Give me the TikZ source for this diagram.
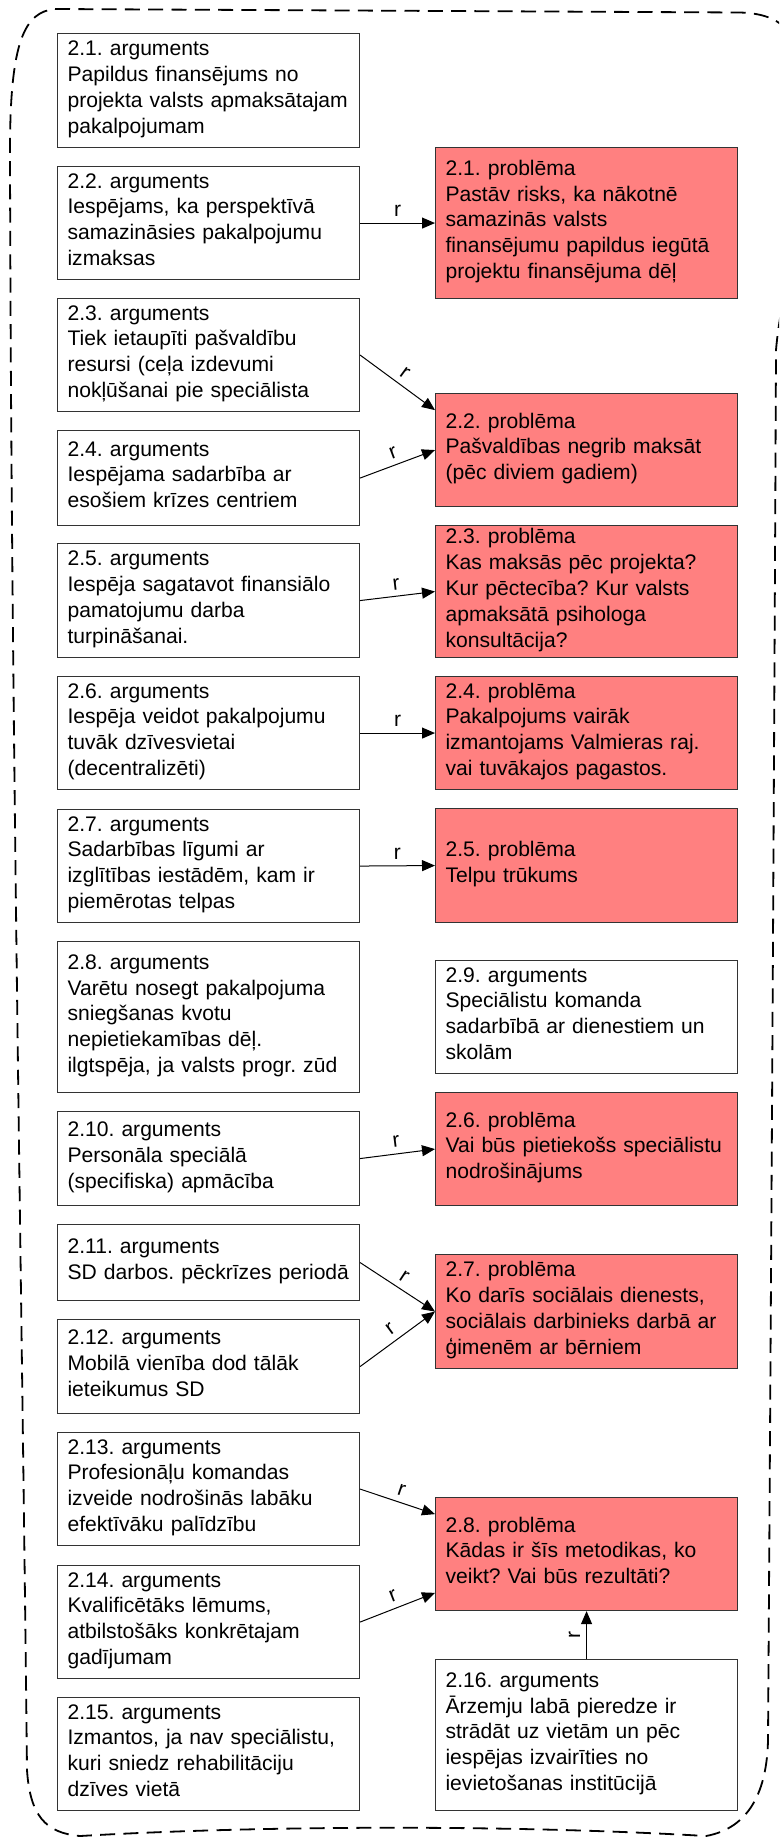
\documentclass[tikz,border=0pt]{standalone}
\usepackage{fontspec}
\setmainfont{Liberation Sans}
\usetikzlibrary{arrows.meta,calc}
\definecolor{probred}{RGB}{255,128,128}
\frenchspacing
\begin{document}
\begin{tikzpicture}[x=1pt,y=-1pt,
  box/.style={rectangle, draw=black!80, line width=1.1pt, anchor=north west,
    inner xsep=10pt, inner ysep=0pt, text width=282pt, align=left,
    font=\fontsize{21.1}{25.9}\selectfont,
    execute at begin node=\rule{0pt}{16.8pt},
    execute at end node=\rule[-9.1pt]{0pt}{9.1pt}},
  arg/.style={box, fill=white},
  prob/.style={box, fill=probred},
  link/.style={draw=black, line width=1pt, -{Triangle[length=13pt,width=11pt]}},
  lbl/.style={midway, above, sloped, inner sep=6pt, font=\fontsize{21.1}{25.9}\selectfont},
  frame/.style={draw=black, line width=1.8pt, dash pattern=on 15pt off 8.3pt}
]
\useasboundingbox (0,0) rectangle (779,1839);

% dashed outline around the whole group (its upper right corner runs off the page)
\begin{scope}
  \clip (0,0) rectangle (779,1839);
  \draw[frame] (55,9) -- (740,12.5)
    .. controls (790,14) and (805,40) .. (805,110)
    .. controls (805,220) and (781,290) .. (776,350)
    .. controls (774,800) and (771,1300) .. (768,1740)
    .. controls (767,1790) and (750,1828) .. (706,1836)
    .. controls (500,1824) and (250,1826) .. (80,1836)
    .. controls (45,1833) and (30,1815) .. (27,1770)
    .. controls (22,1300) and (11,700) .. (10,150)
    .. controls (10,40) and (25,12) .. (55,9) -- cycle;
\end{scope}

% arguments (left column)
\node[arg, minimum height=114pt] (a21) at (57,33) {2.1. arguments\\Papildus finansējums no\\projekta valsts apmaksātajam\\pakalpojumam};
\node[arg, minimum height=113pt] (a22) at (57,166) {2.2. arguments\\Iespējams, ka perspektīvā\\samazināsies pakalpojumu\\izmaksas};
\node[arg, minimum height=113pt] (a23) at (57,298) {2.3. arguments\\Tiek ietaupīti pašvaldību\\resursi (ceļa izdevumi\\nokļūšanai pie speciālista};
\node[arg, minimum height=95pt] (a24) at (57,430) {2.4. arguments\\Iespējama sadarbība ar\\esošiem krīzes centriem};
\node[arg, minimum height=114pt] (a25) at (57,543) {2.5. arguments\\Iespēja sagatavot finansiālo\\pamatojumu darba\\turpināšanai.};
\node[arg, minimum height=113pt] (a26) at (57,676) {2.6. arguments\\Iespēja veidot pakalpojumu\\tuvāk dzīvesvietai\\(decentralizēti)};
\node[arg, minimum height=113pt] (a27) at (57,809) {2.7. arguments\\Sadarbības līgumi ar\\izglītības iestādēm, kam ir\\piemērotas telpas};
\node[arg, minimum height=151pt] (a28) at (57,941) {2.8. arguments\\Varētu nosegt pakalpojuma\\sniegšanas kvotu\\nepietiekamības dēļ.\\ilgtspēja, ja valsts progr. zūd};
\node[arg, minimum height=94pt] (a210) at (57,1111) {2.10. arguments\\Personāla speciālā\\(specifiska) apmācība};
\node[arg, minimum height=76pt] (a211) at (57,1224) {2.11. arguments\\SD darbos. pēckrīzes periodā};
\node[arg, minimum height=94pt] (a212) at (57,1319) {2.12. arguments\\Mobilā vienība dod tālāk\\ieteikumus SD};
\node[arg, minimum height=113pt] (a213) at (57,1432) {2.13. arguments\\Profesionāļu komandas\\izveide nodrošinās labāku\\efektīvāku palīdzību};
\node[arg, minimum height=113pt] (a214) at (57,1565) {2.14. arguments\\Kvalificētāks lēmums,\\atbilstošāks konkrētajam\\gadījumam};
\node[arg, minimum height=113pt] (a215) at (57,1697) {2.15. arguments\\Izmantos, ja nav speciālistu,\\kuri sniedz rehabilitāciju\\dzīves vietā};

% problems and remaining arguments (right column)
\node[prob, minimum height=151pt] (p21) at (435,147) {2.1. problēma\\Pastāv risks, ka nākotnē\\samazinās valsts\\finansējumu papildus iegūtā\\projektu finansējuma dēļ};
\node[prob, minimum height=113pt] (p22) at (435,393) {2.2. problēma\\Pašvaldības negrib maksāt\\(pēc diviem gadiem)};
\node[prob, minimum height=132pt] (p23) at (435,525) {2.3. problēma\\Kas maksās pēc projekta?\\Kur pēctecība? Kur valsts\\apmaksātā psihologa\\konsultācija?};
\node[prob, minimum height=113pt] (p24) at (435,676) {2.4. problēma\\Pakalpojums vairāk\\izmantojams Valmieras raj.\\vai tuvākajos pagastos.};
\node[prob, minimum height=114pt] (p25) at (435,808) {2.5. problēma\\Telpu trūkums};
\node[arg, minimum height=113pt] (a29) at (435,960) {2.9. arguments\\Speciālistu komanda\\sadarbībā ar dienestiem un\\skolām};
\node[prob, minimum height=113pt] (p26) at (435,1092) {2.6. problēma\\Vai būs pietiekošs speciālistu\\nodrošinājums};
\node[prob, minimum height=114pt] (p27) at (435,1254) {2.7. problēma\\Ko darīs sociālais dienests,\\sociālais darbinieks darbā ar\\ģimenēm ar bērniem};
\node[prob, minimum height=113pt] (p28) at (435,1497) {2.8. problēma\\Kādas ir šīs metodikas, ko\\veikt? Vai būs rezultāti?};
\node[arg, minimum height=151pt] (a216) at (435,1659) {2.16. arguments\\Ārzemju labā pieredze ir\\strādāt uz vietām un pēc\\iespējas izvairīties no\\ievietošanas institūcijā};

% relations
\draw[link] (a22.east) -- node[lbl]{r} (p21.west);
\draw[link] (a23.east) -- node[lbl]{r} ($(p22.north west)!0.15!(p22.south west)$);
\draw[link] (a24.east) -- node[lbl]{r} (p22.west);
\draw[link] (a25.east) -- node[lbl]{r} (p23.west);
\draw[link] (a26.east) -- node[lbl]{r} (p24.west);
\draw[link] (a27.east) -- node[lbl]{r} (p25.west);
\draw[link] (a210.east) -- node[lbl]{r} (p26.west);
\draw[link] (a211.east) -- node[lbl]{r} (p27.west);
\draw[link] (a212.east) -- node[lbl]{r} (p27.west);
\draw[link] (a213.east) -- node[lbl]{r} ($(p28.north west)!0.15!(p28.south west)$);
\draw[link] (a214.east) -- node[lbl]{r} ($(p28.north west)!0.84!(p28.south west)$);
\draw[link] (a216.north) -- node[lbl]{r} (p28.south);
\end{tikzpicture}
\end{document}
